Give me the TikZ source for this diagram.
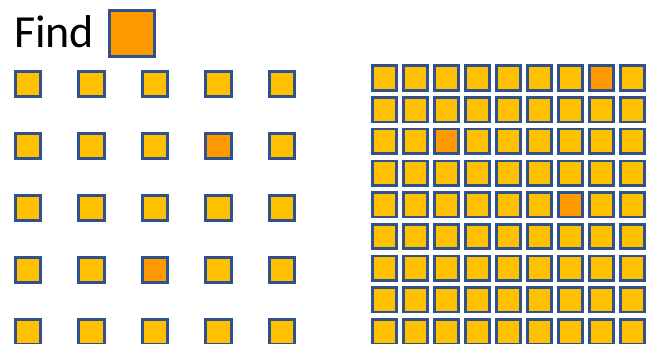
\documentclass[tikz,border=0pt]{standalone}
\usepackage{fontspec}
\setmainfont{Carlito}
\usetikzlibrary{positioning}
\definecolor{tileYellow}{HTML}{FFC000}
\definecolor{tileOrange}{HTML}{FF9900}
\definecolor{tileEdge}{HTML}{2F528F}

\begin{document}
\begin{tikzpicture}[
    x=1pt, y=-1pt,
    tile/.style={draw=tileEdge, line width=2.6pt, fill=tileYellow, minimum size=25.5pt, inner sep=0pt},
    small/.style={tile, minimum size=24.5pt},
    hit/.style={fill=tileOrange}
  ]
  \useasboundingbox (0,0) rectangle (650,344);

  % what to look for
  \node[anchor=base west, inner sep=0pt, font=\fontsize{46}{46}\selectfont] (find) at (14,48) {Find};
  \node[tile, hit, minimum size=45.5pt] (target) at (132,33.5) {};

  % sparse grid
  \foreach \r in {1,...,5}
    \foreach \c in {1,...,5}
      \node[tile] (l-\r-\c) at ({28+63.5*(\c-1)},{84+62*(\r-1)}) {};
  \node[tile, hit] at (l-2-4) {};
  \node[tile, hit] at (l-4-3) {};

  % dense grid
  \foreach \r in {1,...,9}
    \foreach \c in {1,...,9}
      \node[small] (d-\r-\c) at ({384.5+31*(\c-1)},{78+31.7*(\r-1)}) {};
  \node[small, hit] at (d-1-8) {};
  \node[small, hit] at (d-3-3) {};
  \node[small, hit] at (d-5-7) {};
\end{tikzpicture}
\end{document}
